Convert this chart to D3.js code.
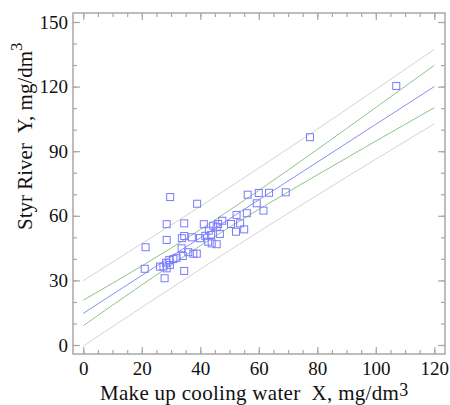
<!DOCTYPE html>
<html>
<head>
<meta charset="utf-8">
<script src="https://cdn.jsdelivr.net/npm/d3@7"></script>
<style>
  body { margin: 0; background: #fff; }
  text { font-family: "Liberation Serif", "Times New Roman", serif; }
</style>
</head>
<body>
<div id="chart"></div>
<script>
// measured points: make up cooling water X vs Styr River Y (mg/dm3)
const pointX = [21.3, 21.0, 26.2, 27.4, 27.8, 28.3, 28.5, 28.5, 28.5, 29.4, 29.6, 29.7, 30.8, 31.9, 33.6, 33.7, 34.0, 34.5, 34.5, 34.5,
  35.9, 37.1, 37.6, 38.8, 38.9, 39.9, 41.2, 41.7, 42.7, 42.9, 43.7, 43.9, 44.4, 45.6, 45.6, 46.1, 46.7, 47.5, 50.5, 52.2,
  52.4, 53.6, 55.0, 55.9, 56.2, 59.3, 60.0, 61.6, 63.5, 69.2, 77.5, 107.0];
const pointY = [45.4, 35.4, 36.4, 36.4, 31.0, 38.2, 35.6, 48.8, 56.1, 39.5, 37.2, 68.7, 39.9, 40.5, 44.9, 49.6, 41.3, 34.4, 50.6, 56.5,
  43.1, 50.0, 42.4, 42.4, 65.6, 49.6, 56.1, 50.7, 48.0, 53.1, 51.1, 47.2, 55.4, 54.7, 46.8, 56.2, 51.6, 57.7, 56.2, 52.6,
  60.4, 56.5, 53.7, 61.2, 69.8, 65.8, 70.6, 62.4, 70.7, 70.9, 96.5, 120.3];

// fitted line and bands read at these X positions
const bandX   = [0, 20, 40, 60, 80, 100, 120];
const fitY    = [14.7, 32.3, 49.8, 67.4, 84.9, 102.5, 120.0];
const ciUpper = [20.8, 36.7, 53.6, 71.8, 90.8, 110.3, 129.9];
const ciLower = [9.0, 27.9, 46.1, 63.0, 79.0, 94.7, 110.2];
const piUpper = [29.9, 47.1, 64.4, 82.2, 100.2, 118.7, 137.3];
const piLower = [-0.5, 17.5, 35.2, 52.6, 69.6, 86.3, 102.7];

const xTicks = [0, 20, 40, 60, 80, 100, 120];
const yTicks = [0, 30, 60, 90, 120, 150];

const width = 450, height = 405;
const frame = { left: 73, right: 445, top: 13, bottom: 354 };

const svg = d3.select("#chart")
  .append("svg")
    .attr("width", width)
    .attr("height", height);

const x = d3.scaleLinear().domain([0, 120]).range([83.3, 434.3]);
const y = d3.scaleLinear().domain([0, 150]).range([345, 22]);

const gridColor = "#a8a8a8";

// bands and fit line
const line = d3.line()
  .x((d, i) => x(bandX[i]))
  .y(d => y(d))
  .curve(d3.curveNatural);

svg.append("path").datum(piUpper).attr("d", line)
  .attr("fill", "none").attr("stroke", "#d4d4d4").attr("stroke-width", 1);
svg.append("path").datum(piLower).attr("d", line)
  .attr("fill", "none").attr("stroke", "#d4d4d4").attr("stroke-width", 1);
svg.append("path").datum(ciUpper).attr("d", line)
  .attr("fill", "none").attr("stroke", "#8cc48c").attr("stroke-width", 1);
svg.append("path").datum(ciLower).attr("d", line)
  .attr("fill", "none").attr("stroke", "#8cc48c").attr("stroke-width", 1);
svg.append("path").datum(fitY).attr("d", line)
  .attr("fill", "none").attr("stroke", "#8c8cf4").attr("stroke-width", 1);

// points
const sq = 7;
svg.append("g")
  .selectAll("rect")
  .data(pointX)
  .enter()
  .append("rect")
    .attr("x", (d, i) => x(d) - sq / 2)
    .attr("y", (d, i) => y(pointY[i]) - sq / 2)
    .attr("width", sq)
    .attr("height", sq)
    .attr("fill", "none")
    .attr("stroke", "#7a7aff")
    .attr("stroke-width", 1);

// frame
svg.append("rect")
  .attr("x", frame.left)
  .attr("y", frame.top)
  .attr("width", frame.right - frame.left)
  .attr("height", frame.bottom - frame.top)
  .attr("fill", "none")
  .attr("stroke", gridColor)
  .attr("stroke-width", 1.5);

function styleAxis(g) {
  g.select(".domain").remove();
  g.selectAll(".tick line").attr("stroke", gridColor).attr("stroke-width", 1.2);
  g.selectAll("text").attr("font-size", "19px").attr("fill", "#111")
    .style("font-family", "'Liberation Serif', serif");
}

// minor ticks (all four sides)
const xMinor = d3.range(0, 121, 5);
const yMinor = d3.range(0, 151, 10);
svg.append("g").attr("transform", `translate(0,${frame.bottom})`)
  .call(d3.axisBottom(x).tickValues(xMinor).tickSize(-4).tickFormat("")).call(styleAxis);
svg.append("g").attr("transform", `translate(0,${frame.top})`)
  .call(d3.axisTop(x).tickValues(xMinor).tickSize(-4).tickFormat("")).call(styleAxis);
svg.append("g").attr("transform", `translate(${frame.left},0)`)
  .call(d3.axisLeft(y).tickValues(yMinor).tickSize(-4).tickFormat("")).call(styleAxis);
svg.append("g").attr("transform", `translate(${frame.right},0)`)
  .call(d3.axisRight(y).tickValues(yMinor).tickSize(-4).tickFormat("")).call(styleAxis);

// major ticks with labels
svg.append("g").attr("transform", `translate(0,${frame.bottom})`)
  .call(d3.axisBottom(x).tickValues(xTicks).tickSize(-7).tickPadding(8)).call(styleAxis);
svg.append("g").attr("transform", `translate(0,${frame.top})`)
  .call(d3.axisTop(x).tickValues(xTicks).tickSize(-7).tickFormat("")).call(styleAxis);
svg.append("g").attr("transform", `translate(${frame.left},0)`)
  .call(d3.axisLeft(y).tickValues(yTicks).tickSize(-7).tickPadding(5)).call(styleAxis);
svg.append("g").attr("transform", `translate(${frame.right},0)`)
  .call(d3.axisRight(y).tickValues(yTicks).tickSize(-7).tickFormat("")).call(styleAxis);

// axis titles
const xTitle = svg.append("text")
  .attr("x", 100)
  .attr("y", 400)
  .attr("font-size", "21px")
  .attr("letter-spacing", "0.3px")
  .attr("fill", "#111")
  .style("white-space", "pre");
xTitle.append("tspan").text("Make up cooling water  X, mg/dm");
xTitle.append("tspan").attr("dy", -4).attr("font-size", "18px").text("3");

const yTitle = svg.append("text")
  .attr("transform", "translate(32,230) rotate(-90)")
  .attr("font-size", "21px")
  .attr("fill", "#111")
  .style("white-space", "pre");
yTitle.append("tspan").text("Styr River  Y, mg/dm");
yTitle.append("tspan").attr("dy", -10).attr("font-size", "17px").text("3");
</script>
</body>
</html>
